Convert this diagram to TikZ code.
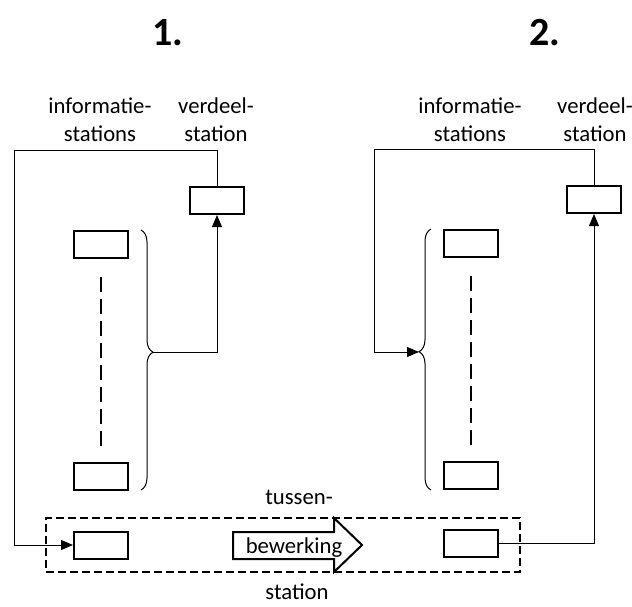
\documentclass[tikz,border=0pt]{standalone}
\usepackage{fontspec}
\setmainfont{Carlito}
\usetikzlibrary{arrows.meta,positioning,calc,decorations.pathreplacing}
\tikzset{
  stbox/.style={draw, line width=2pt, minimum width=54pt, minimum height=27pt, inner sep=0pt},
  conn/.style={line width=1pt},
  arr/.style={-{Triangle[length=12pt,width=10pt]}},
  lbl/.style={font=\fontsize{22.7}{28}\selectfont, align=center, inner sep=0pt},
  ttl/.style={font=\bfseries\fontsize{40}{48}\selectfont, anchor=base, inner sep=0pt},
  gapline/.style={line width=2pt, dash pattern=on 15pt off 7pt},
  br/.style={decorate, decoration={brace, amplitude=12pt}, line width=1pt},
}

\begin{document}
\begin{tikzpicture}[x=1pt,y=-1pt]
        \useasboundingbox (0,0) rectangle (632,606);
        \node[ttl] (nA) at (168,45) {1.};
        \node[ttl] (nB) at (545,45) {2.};
        % tussenstation
        \node[draw, line width=1.6pt, dash pattern=on 8pt off 4pt,
              minimum width=474pt, minimum height=54pt, inner sep=0pt] (tus) at (283,545) {};
        \node[lbl] (tusT) at (299,497) {tussen-};
        \node[lbl, anchor=base] (tusS) at (297,599) {station};
        \draw[line width=2pt, fill=white] (233,532) -- (334,532) -- (334,518) -- (362,545)
             -- (334,572) -- (334,559) -- (233,559) -- cycle;
        \node[lbl, anchor=base] (bew) at (294,553) {bewerking};
        % 1.
        \node[lbl] (infA) at (100,120) {informatie-\\stations};
        \node[lbl] (verdA) at (216,120) {verdeel-\\station};
        \node[stbox] (vA) at (217,200.5) {};
        \node[stbox] (iA1) at (101,244.5) {};
        \node[stbox] (iA2) at (101,476.5) {};
        \node[stbox] (tA) at (101,545) {};
        \draw[gapline, shorten <=18pt, shorten >=15pt] (iA1) -- (iA2);
        \draw[br, decoration={aspect=0.47}] (141,230) -- (141,490);
        \coordinate (tipA) at (153,352);
        \coordinate (cA) at (14,150);
        \draw[conn, arr] (tipA) -| (vA);
        \draw[conn, arr] (vA) |- (cA) |- (tA);
        % 2.
        \node[lbl] (infB) at (470,120) {informatie-\\stations};
        \node[lbl] (verdB) at (595,120) {verdeel-\\station};
        \node[stbox] (vB) at (594,199.5) {};
        \node[stbox] (iB1) at (471,243.5) {};
        \node[stbox] (iB2) at (471,475.5) {};
        \node[stbox] (tB) at (471,543.5) {};
        \draw[gapline, shorten <=18pt, shorten >=15pt] (iB1) -- (iB2);
        \draw[br, decoration={aspect=0.53}] (431,490) -- (431,229);
        \coordinate (tipB) at (419,352);
        \coordinate (cB) at (374,149);
        \draw[conn, arr] (vB) |- (cB) |- (tipB);
        \draw[conn, arr] (tB) -| (vB);
\end{tikzpicture}
\end{document}
